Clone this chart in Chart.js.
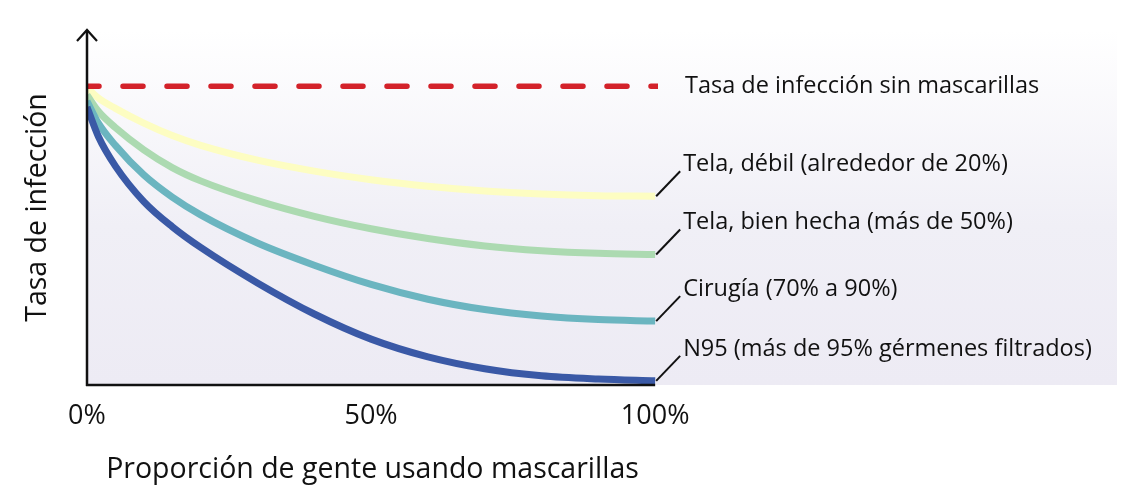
<!DOCTYPE html>
<html>
<head>
<meta charset="utf-8">
<script src="https://cdn.jsdelivr.net/npm/chart.js@4/dist/chart.umd.min.js"></script>
<style>
  html, body { margin: 0; padding: 0; background: #fff; }
  #wrap { width: 1140px; height: 503px; position: relative; }
</style>
</head>
<body>
<div id="wrap"><canvas id="myChart"></canvas></div>
<script>
// share of people wearing masks (%)
var maskShare = [0, 2, 5, 10, 15, 20, 30, 40, 50, 60, 70, 80, 90, 100];
// infection rate, 100 = rate without masks
var clothWeak = [99.5, 96, 92.5, 87.5, 83.3, 80, 75, 71.3, 68.4, 66.2, 64.6, 63.6, 63, 62.8];
var clothGood = [97, 91.5, 86, 78.5, 72.5, 68, 61.3, 56, 51.8, 48.5, 46, 44.4, 43.5, 43.1];
var surgical = [95, 87.5, 80, 70, 62.5, 56.5, 47, 39.5, 33, 28, 24.5, 22.3, 21.1, 20.6];
var n95 = [93, 83, 73, 61, 52.5, 45.5, 33.5, 23, 14.5, 8.5, 4.5, 2.1, 1, 0.4];
var noMaskX = [0, 100.5];
var noMaskRate = [100, 100];
var xTicks = [0, 50, 100];

var noMaskLabel = 'Tasa de infección sin mascarillas';
var seriesLabels = [
  'N95 (más de 95% gérmenes filtrados)',
  'Cirugía (70% a 90%)',
  'Tela, bien hecha (más de 50%)',
  'Tela, débil (alrededor de 20%)'
];

function toPoints(xs, ys) {
  return xs.map(function(x, i) { return { x: x, y: ys[i] }; });
}

var labelFont = '23.5px "Open Sans", sans-serif';

var decorPlugin = {
  id: 'decor',
  beforeDraw: function(chart) {
    var c = chart.ctx, a = chart.chartArea;
    var g = c.createLinearGradient(0, a.top, 0, a.bottom);
    g.addColorStop(0, '#ffffff');
    g.addColorStop(0.55, '#f0eff6');
    g.addColorStop(1, '#edebf4');
    c.save();
    c.fillStyle = g;
    c.fillRect(a.left, a.top, 1117 - a.left, a.bottom - a.top);
    c.restore();
  },
  afterDatasetsDraw: function(chart) {
    var c = chart.ctx, a = chart.chartArea;
    var xs = chart.scales.x, ys = chart.scales.y;
    var x100 = xs.getPixelForValue(100);
    c.save();
    // axes
    c.strokeStyle = '#111';
    c.lineWidth = 2.5;
    c.lineCap = 'butt';
    c.beginPath();
    c.moveTo(a.left, a.bottom + 1);
    c.lineTo(a.left, a.top);
    c.moveTo(a.left - 1, a.bottom);
    c.lineTo(x100, a.bottom);
    c.stroke();
    c.lineWidth = 2.2;
    c.beginPath();
    c.moveTo(a.left - 10, a.top + 11);
    c.lineTo(a.left, a.top);
    c.lineTo(a.left + 10, a.top + 11);
    c.stroke();

    // connectors + labels
    c.font = labelFont;
    c.fillStyle = '#111';
    c.textBaseline = 'middle';
    c.textAlign = 'left';
    c.lineWidth = 2;
    var ends = [n95, surgical, clothGood, clothWeak];
    ends.forEach(function(arr, i) {
      var py = ys.getPixelForValue(arr[arr.length - 1]);
      c.beginPath();
      c.moveTo(x100 + 1, py);
      c.lineTo(x100 + 25, py - 25);
      c.stroke();
      c.fillText(seriesLabels[i], x100 + 28, py - 32);
    });
    c.fillText(noMaskLabel, 685, ys.getPixelForValue(noMaskRate[0]));
    c.restore();
  }
};

var ctx = document.getElementById('myChart').getContext('2d');
var data = {
  datasets: [
    {
      label: 'Sin mascarillas',
      data: toPoints(noMaskX, noMaskRate),
      borderColor: '#d3222a',
      borderWidth: 5.5,
      borderDash: [20, 24],
      borderDashOffset: 8,
      borderCapStyle: 'round',
      pointRadius: 0
    },
    {
      label: seriesLabels[0],
      data: toPoints(maskShare, n95),
      borderColor: '#3a59a6',
      borderWidth: 7,
      cubicInterpolationMode: 'monotone',
      pointRadius: 0
    },
    {
      label: seriesLabels[1],
      data: toPoints(maskShare, surgical),
      borderColor: '#6bb5c0',
      borderWidth: 7,
      cubicInterpolationMode: 'monotone',
      pointRadius: 0
    },
    {
      label: seriesLabels[2],
      data: toPoints(maskShare, clothGood),
      borderColor: '#acdab1',
      borderWidth: 7,
      cubicInterpolationMode: 'monotone',
      pointRadius: 0
    },
    {
      label: seriesLabels[3],
      data: toPoints(maskShare, clothWeak),
      borderColor: '#fdfdc2',
      borderWidth: 7,
      cubicInterpolationMode: 'monotone',
      pointRadius: 0
    }
  ]
};

var options = {
  responsive: true,
  maintainAspectRatio: false,
  animation: false,
  layout: { padding: { top: 30, right: 482, bottom: 0, left: 0 } },
  plugins: { legend: { display: false }, tooltip: { enabled: false } },
  scales: {
    x: {
      type: 'linear',
      min: 0,
      max: 100.5,
      afterFit: function(scale) { scale.height = 118; },
      afterBuildTicks: function(scale) {
        scale.ticks = xTicks.map(function(v) { return { value: v }; });
      },
      grid: { display: false, drawTicks: false },
      border: { display: false },
      ticks: {
        padding: 15,
        maxRotation: 0,
        color: '#111',
        font: { family: '"Open Sans", sans-serif', size: 27 },
        callback: function(v) { return v + '%'; }
      },
      title: {
        display: true,
        text: 'Proporción de gente usando mascarillas',
        color: '#111',
        font: { family: '"Open Sans", sans-serif', size: 28.5 },
        padding: { top: 0, bottom: 16 }
      }
    },
    y: {
      type: 'linear',
      min: -1,
      max: 119,
      afterFit: function(scale) { scale.width = 87; },
      grid: { display: false },
      border: { display: false },
      ticks: { display: false },
      title: {
        display: true,
        text: 'Tasa de infección',
        color: '#111',
        font: { family: '"Open Sans", sans-serif', size: 28.5 },
        padding: { top: 21, bottom: 0 }
      }
    }
  }
};

var myChart = new Chart(ctx, {
  type: 'line',
  data: data,
  options: options,
  plugins: [decorPlugin]
});
</script>
</body>
</html>
